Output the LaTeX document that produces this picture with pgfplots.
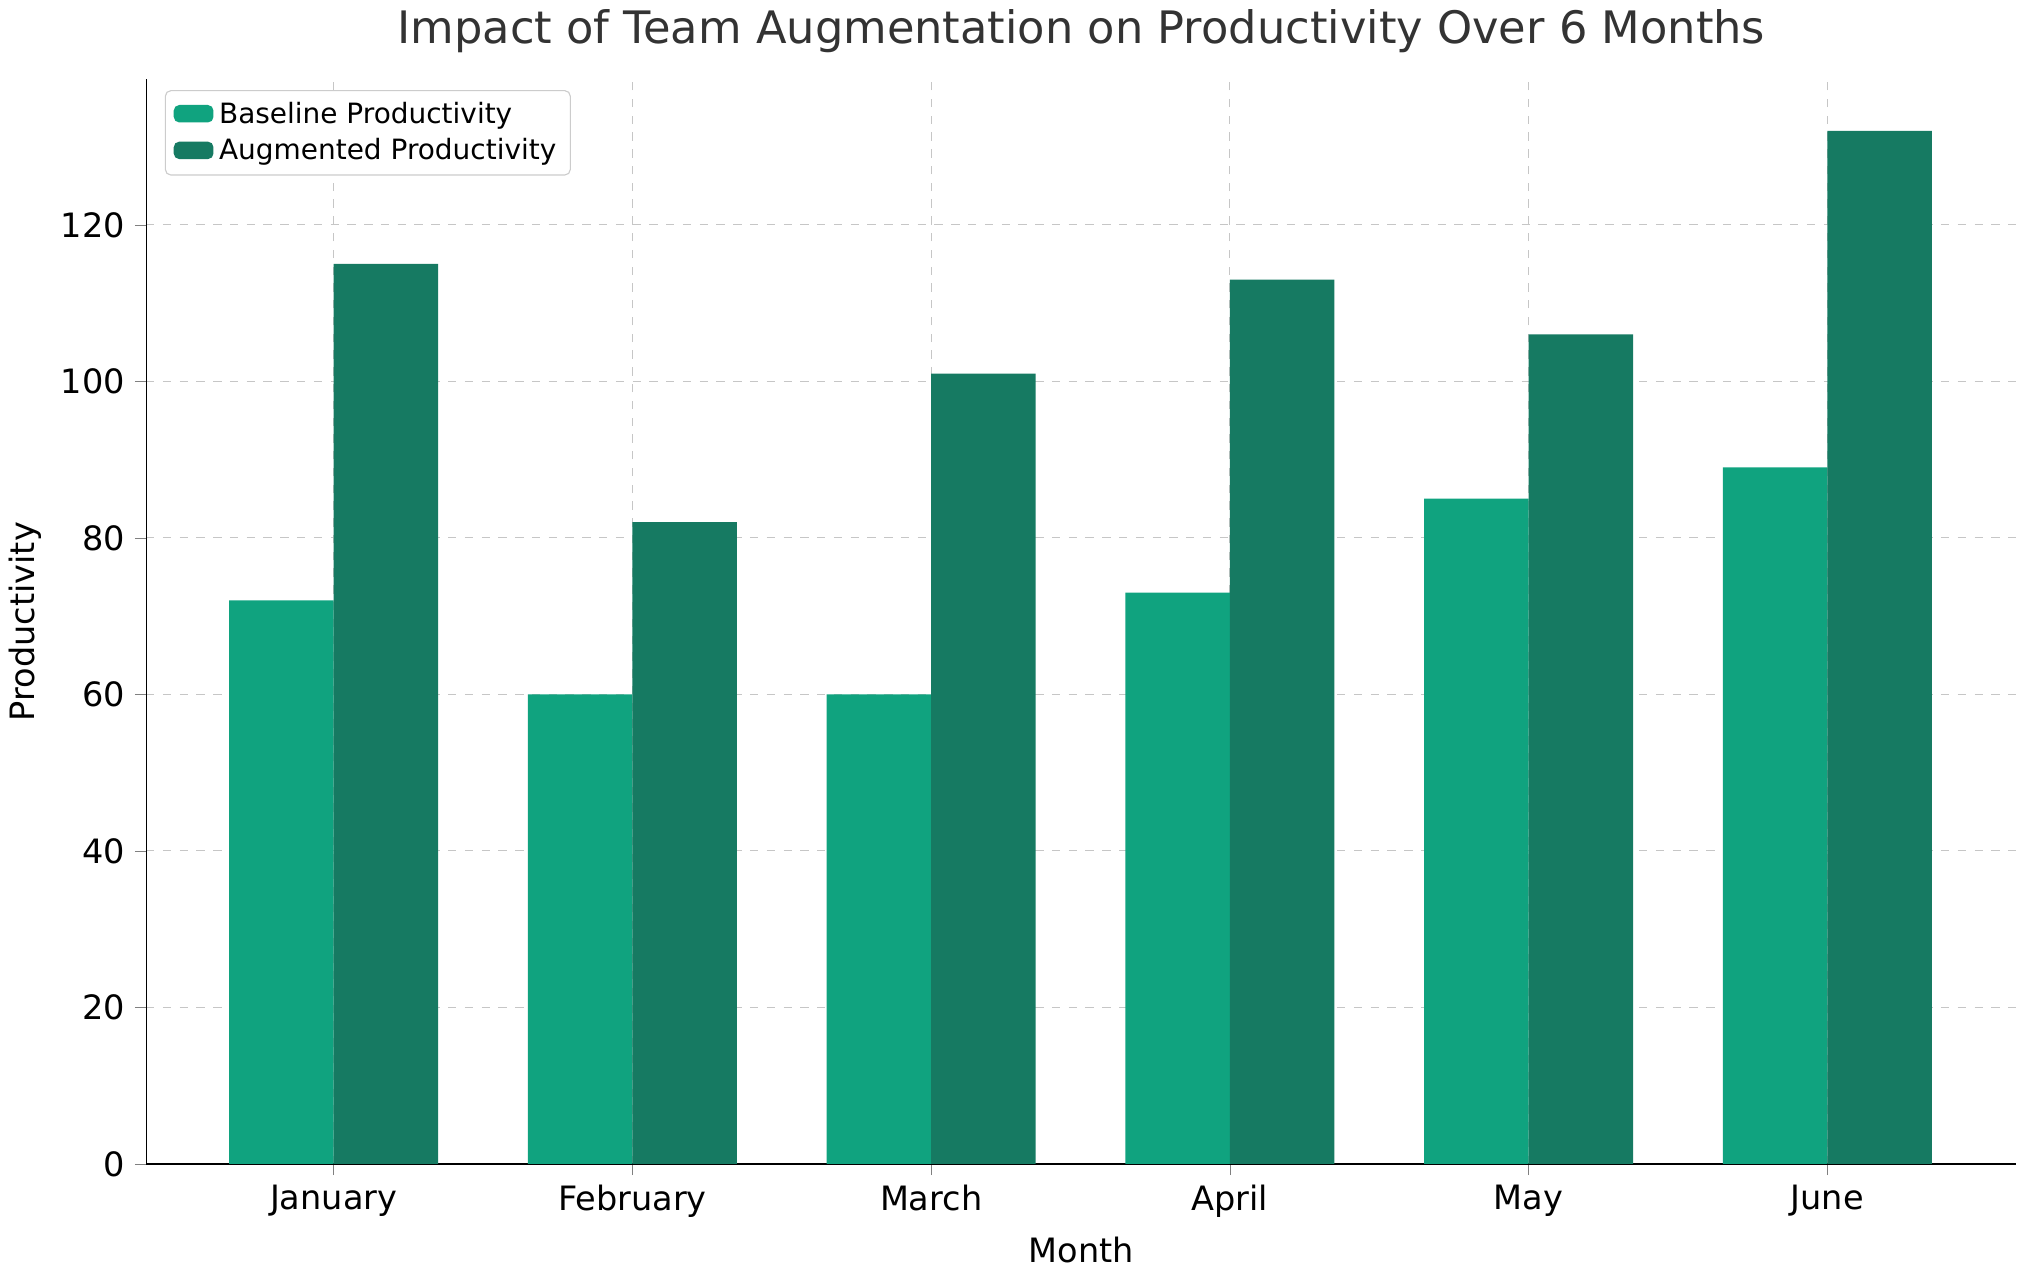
\documentclass[border=0pt]{standalone}
\usepackage{pgfplots}
\pgfplotsset{compat=1.18}
\usepackage{fontspec}
\setmainfont{DejaVu Sans}
\definecolor{base}{HTML}{10A37F}
\definecolor{aug}{HTML}{167A62}
\definecolor{txt}{HTML}{333333}
\begin{document}
\begin{tikzpicture}
\begin{axis}[
  scale only axis, width=669pt, height=388pt,
  xmin=-0.628, xmax=5.633, ymin=0, ymax=138.6,
  xtick={0,...,5}, xticklabels={January,February,March,April,May,June},
  ytick={0,20,...,120},
  /pgf/number format/assume math mode=true,
  tick label style={font=\fontsize{12}{14}\selectfont},
  label style={font=\fontsize{12}{14}\selectfont},
  xlabel={Month}, ylabel={Productivity},
  title={Impact of Team Augmentation on Productivity Over 6 Months},
  title style={font=\fontsize{16}{19}\selectfont, text=txt},
  grid=major, grid style={dashed, gray!45},
  axis x line*=bottom, axis y line*=left,
  tick align=outside, major tick length=4pt,
  legend style={at={(0.01,0.99)}, anchor=north west, font=\fontsize{10}{12}\selectfont, draw=gray!40, rounded corners=2pt, cells={anchor=west}},
  legend image code/.code={\fill[#1] (0cm,-0.1cm) rectangle (0.5cm,0.12cm);},
]
\addplot[ybar, bar width=0.35, bar shift=-0.175, fill=base, draw=none] coordinates {(0,72) (1,60) (2,60) (3,73) (4,85) (5,89)};
\addlegendentry{Baseline Productivity}
\addplot[ybar, bar width=0.35, bar shift=0.175, fill=aug, draw=none] coordinates {(0,115) (1,82) (2,101) (3,113) (4,106) (5,132)};
\addlegendentry{Augmented Productivity}
\end{axis}
\end{tikzpicture}
\end{document}
